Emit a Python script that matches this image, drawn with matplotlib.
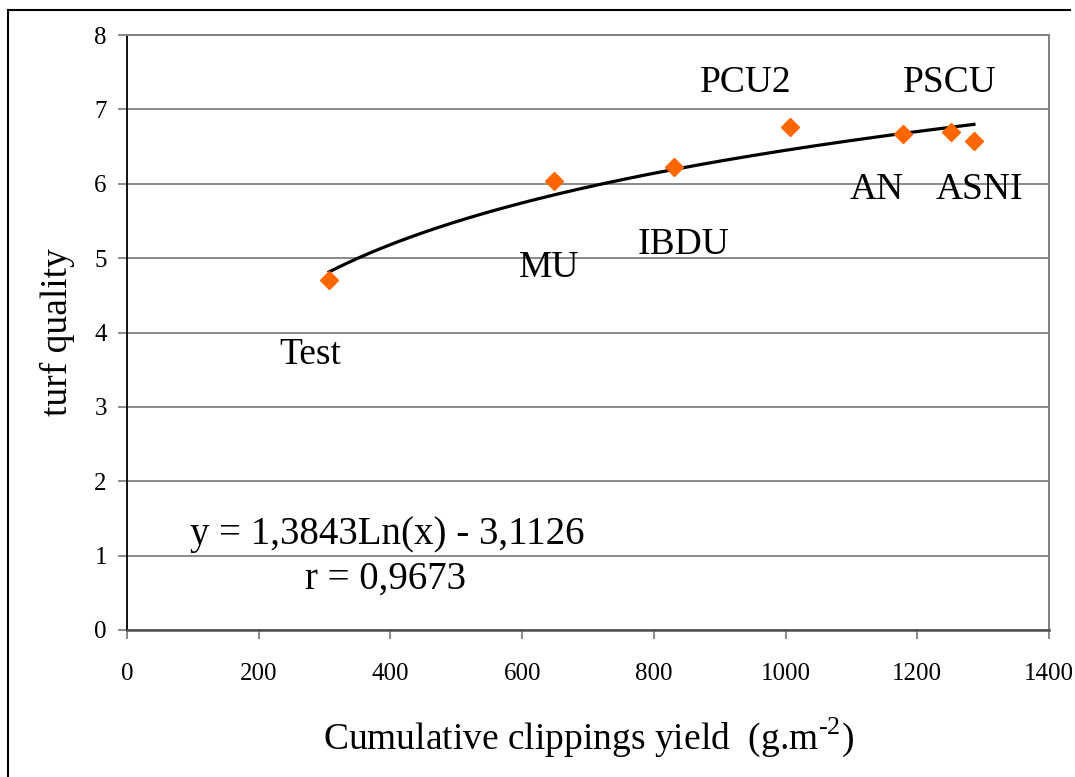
import numpy as np
import matplotlib
matplotlib.use('Agg')
import matplotlib.pyplot as plt
from matplotlib.lines import Line2D

plt.rcParams['font.family'] = ['Liberation Serif', 'DejaVu Serif']
plt.rcParams['mathtext.fontset'] = 'custom'
plt.rcParams['mathtext.rm'] = 'Liberation Serif'

# data
treatments = ['Test', 'MU', 'IBDU', 'PCU2', 'AN', 'PSCU', 'ASNI']
clippings = [307, 648, 830, 1006, 1178, 1251, 1286]
quality = [4.70, 6.04, 6.23, 6.76, 6.67, 6.69, 6.57]

# trend line y = a*ln(x) + b as printed on the chart
trend_a = 1.3843
trend_b = -3.1126
trend_r = '0,9673'

# label positions (data coords, baseline)
label_pos = [(278, 3.57), (641, 4.74), (845, 5.05), (940, 7.23),
             (1139, 5.79), (1250, 7.23), (1294, 5.79)]

fig = plt.figure(figsize=(10.75, 7.77), dpi=100)
ax = fig.add_axes([127 / 1075, 1 - 630 / 777, 922 / 1075, 595 / 777])

ax.set_xlim(0, 1400)
ax.set_ylim(0, 8)
ax.set_xticks(np.arange(0, 1401, 200))
ax.set_yticks(np.arange(0, 9, 1))
ax.yaxis.grid(True, color='#808080', lw=1.3)
ax.set_axisbelow(True)

for s in ['top', 'right']:
    ax.spines[s].set_color('#808080')
    ax.spines[s].set_linewidth(1.4)
ax.spines['left'].set_color('black')
ax.spines['left'].set_linewidth(1.3)
ax.spines['bottom'].set_color('#505050')
ax.spines['bottom'].set_linewidth(1.8)
ax.tick_params(axis='both', direction='out', length=6.5, width=1.3,
               color='#808080', labelsize=18)
ax.tick_params(axis='y', pad=8)
ax.tick_params(axis='x', pad=17)

# trend line
xs = np.linspace(min(clippings), max(clippings), 200)
ax.plot(xs, trend_a * np.log(xs) + trend_b, color='black', lw=2.3, zorder=3)

ax.plot(clippings, quality, linestyle='none', marker='D', ms=9.5,
        color='#FF6600', zorder=4)

for name, (lx, ly) in zip(treatments, label_pos):
    ax.text(lx, ly, name, fontsize=27, ha='center', va='baseline')

ax.text(395, 1.15, 'y = 1,3843Ln(x) - 3,1126', fontsize=28,
        ha='center', va='baseline')
ax.text(393, 0.56, 'r = ' + trend_r, fontsize=28, ha='center', va='baseline')

ax.set_ylabel('turf quality', fontsize=27, labelpad=14)
ax.set_xlabel('Cumulative clippings yield  (g.m$^{\\text{-2}}$)',
              fontsize=27, labelpad=22)

# outer frame of the chart area
fig.add_artist(Line2D([8 / 1075, 1070 / 1075], [1 - 10 / 777, 1 - 10 / 777],
                      transform=fig.transFigure, color='black', lw=1.5))
fig.add_artist(Line2D([8 / 1075, 8 / 1075], [0, 1 - 10 / 777],
                      transform=fig.transFigure, color='black', lw=1.5))

fig.savefig('out.png', dpi=100)
